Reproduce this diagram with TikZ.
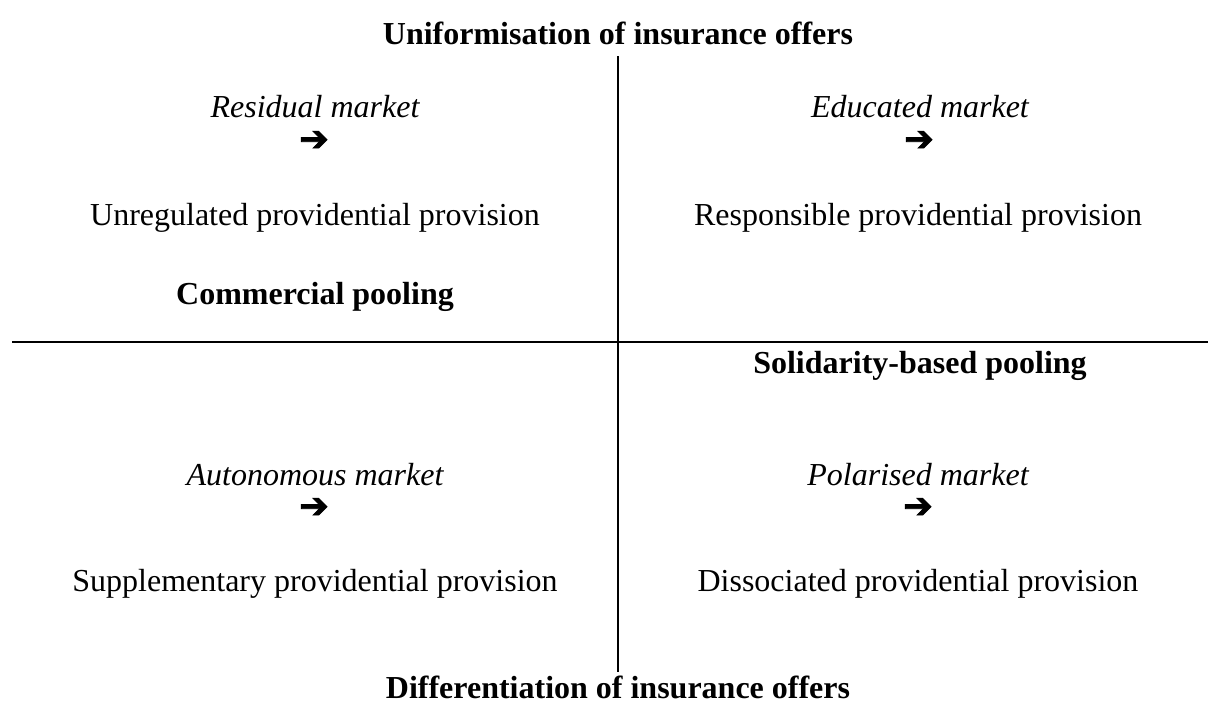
\documentclass[tikz,border=0pt]{standalone}
\usepackage{fontspec}
\setmainfont{Liberation Serif}
\newfontfamily\symfont[FakeBold=2.5]{DejaVu Sans}
\begin{document}
\begin{tikzpicture}[x=1pt,y=-1pt,
  lbl/.style={inner sep=0pt, font=\fontsize{32}{36}\selectfont},
  hdr/.style={lbl, font=\fontsize{32}{36}\selectfont\bfseries},
  mkt/.style={lbl, font=\fontsize{32}{36}\selectfont\itshape},
  arr/.style={inner sep=0pt, font=\fontsize{35}{38}\symfont},
  axis/.style={line width=2pt}]
\useasboundingbox (0,0) rectangle (1208,704);
\coordinate (vt) at (618,56);
\coordinate (vb) at (618,672);
\coordinate (hl) at (12,342);
\coordinate (hr) at (1208,342);
\draw[axis] (vt) -- (vb);
\draw[axis] (hl) -- (hr);
\node[hdr] (top) at (618,33) {Uniformisation of insurance offers};
\node[hdr] (bot) at (618,687) {Differentiation of insurance offers};
\node[hdr] (com) at (315,297) {Commercial pooling};
\node[hdr] (sol) at (920,366) {Solidarity-based pooling};
\node[mkt] (m1) at (315,107) {Residual market};
\node[arr] (a1) at (314,141) {➔};
\node[lbl] (p1) at (315,218) {Unregulated providential provision};
\node[mkt] (m2) at (920,107) {Educated market};
\node[arr] (a2) at (919,141) {➔};
\node[lbl] (p2) at (918,218) {Responsible providential provision};
\node[mkt] (m3) at (315,475) {Autonomous market};
\node[arr] (a3) at (314,508) {➔};
\node[lbl] (p3) at (315,584) {Supplementary providential provision};
\node[mkt] (m4) at (918,475) {Polarised market};
\node[arr] (a4) at (918,508) {➔};
\node[lbl] (p4) at (918,584) {Dissociated providential provision};
\end{tikzpicture}
\end{document}
